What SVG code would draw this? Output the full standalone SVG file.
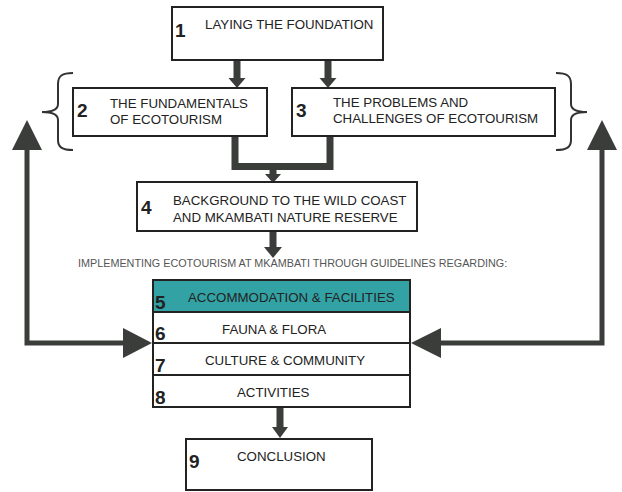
<svg xmlns="http://www.w3.org/2000/svg" width="622" height="492" viewBox="0 0 622 492">
<style>
.box{fill:#fff;stroke:#222;stroke-width:2}
.teal{fill:#33a2a5;stroke:#222;stroke-width:2}
.lbl{font-family:"Liberation Sans",Arial,sans-serif;font-size:13.3px;fill:#222}
.num{font-family:"Liberation Sans",Arial,sans-serif;font-size:19px;font-weight:bold;fill:#222}
.small{font-family:"Liberation Sans",Arial,sans-serif;font-size:10.8px;fill:#555}
.conn{fill:none;stroke:#3b3d3a;stroke-width:7;stroke-linejoin:miter}
.side{fill:none;stroke:#3b3d3a;stroke-width:5}
.head{fill:#3b3d3a}
.brace{fill:none;stroke:#333;stroke-width:2}
</style>
<g id="connectors">
<path class="conn" d="M237,60V79"/>
<polygon class="head" points="228.5,78 245.5,78 237,88"/>
<path class="conn" d="M328,60V79"/>
<polygon class="head" points="319.5,78 336.5,78 328,88"/>
<path class="conn" d="M235,136V166.5H330V136"/>
<path class="conn" d="M273,168V175"/>
<polygon class="head" points="265,174 281,174 273,183"/>
<path class="conn" d="M273,231V248"/>
<polygon class="head" points="264,247 282,247 273,258"/>
<path class="conn" d="M280,407V428"/>
<polygon class="head" points="272,427 288,427 280,438"/>
<path class="side" d="M27,149V343H125"/>
<polygon class="head" points="27,120 12,150 42,150"/>
<polygon class="head" points="123,328 123,358 152,343"/>
<path class="side" d="M602,149V343H440"/>
<polygon class="head" points="602,120 587,150 617,150"/>
<polygon class="head" points="441,328 441,358 411,343"/>
</g>
<g id="brace-left"><path class="brace" d="M73,73C62,73 58,76 58,84V104C58,109 52,112 42,112C52,112 58,115 58,120V140C58,147 62,150 73,150"/></g>
<g id="brace-right"><path class="brace" d="M556,73C567,73 571,76 571,84V104C571,109 577,112 587,112C577,112 571,115 571,120V140C571,147 567,150 556,150"/></g>
<g id="node1">
<rect class="box" x="172" y="7" width="211" height="53"/>
<text class="num" x="175" y="37">1</text>
<text class="lbl" x="205" y="29">LAYING THE FOUNDATION</text>
</g>
<g id="node2">
<rect class="box" x="73" y="88" width="194" height="48"/>
<text class="num" x="77" y="117">2</text>
<text class="lbl" x="110" y="108">THE FUNDAMENTALS</text>
<text class="lbl" x="110" y="124">OF ECOTOURISM</text>
</g>
<g id="node3">
<rect class="box" x="292" y="88" width="263" height="48"/>
<text class="num" x="296" y="117">3</text>
<text class="lbl" x="333" y="107">THE PROBLEMS AND</text>
<text class="lbl" x="333" y="123">CHALLENGES OF ECOTOURISM</text>
</g>
<g id="node4">
<rect class="box" x="137" y="182" width="280" height="49"/>
<text class="num" x="141" y="214">4</text>
<text class="lbl" x="173" y="205">BACKGROUND TO THE WILD COAST</text>
<text class="lbl" x="173" y="222">AND MKAMBATI NATURE RESERVE</text>
</g>
<g id="caption">
<text class="small" x="78" y="267">IMPLEMENTING ECOTOURISM AT MKAMBATI THROUGH GUIDELINES REGARDING:</text>
</g>
<g id="node5">
<rect class="teal" x="153" y="280" width="257" height="32"/>
<text class="num" x="155" y="309">5</text>
<text class="lbl" x="188" y="302">ACCOMMODATION &amp; FACILITIES</text>
</g>
<g id="node6">
<rect class="box" x="153" y="312" width="257" height="31"/>
<text class="num" x="155" y="340">6</text>
<text class="lbl" x="222" y="334">FAUNA &amp; FLORA</text>
</g>
<g id="node7">
<rect class="box" x="153" y="343" width="257" height="32"/>
<text class="num" x="155" y="372">7</text>
<text class="lbl" x="205" y="365">CULTURE &amp; COMMUNITY</text>
</g>
<g id="node8">
<rect class="box" x="153" y="375" width="257" height="32"/>
<text class="num" x="155" y="404">8</text>
<text class="lbl" x="237" y="397">ACTIVITIES</text>
</g>
<g id="node9">
<rect class="box" x="186" y="439" width="186" height="51"/>
<text class="num" x="189" y="468">9</text>
<text class="lbl" x="237" y="461">CONCLUSION</text>
</g>
</svg>
